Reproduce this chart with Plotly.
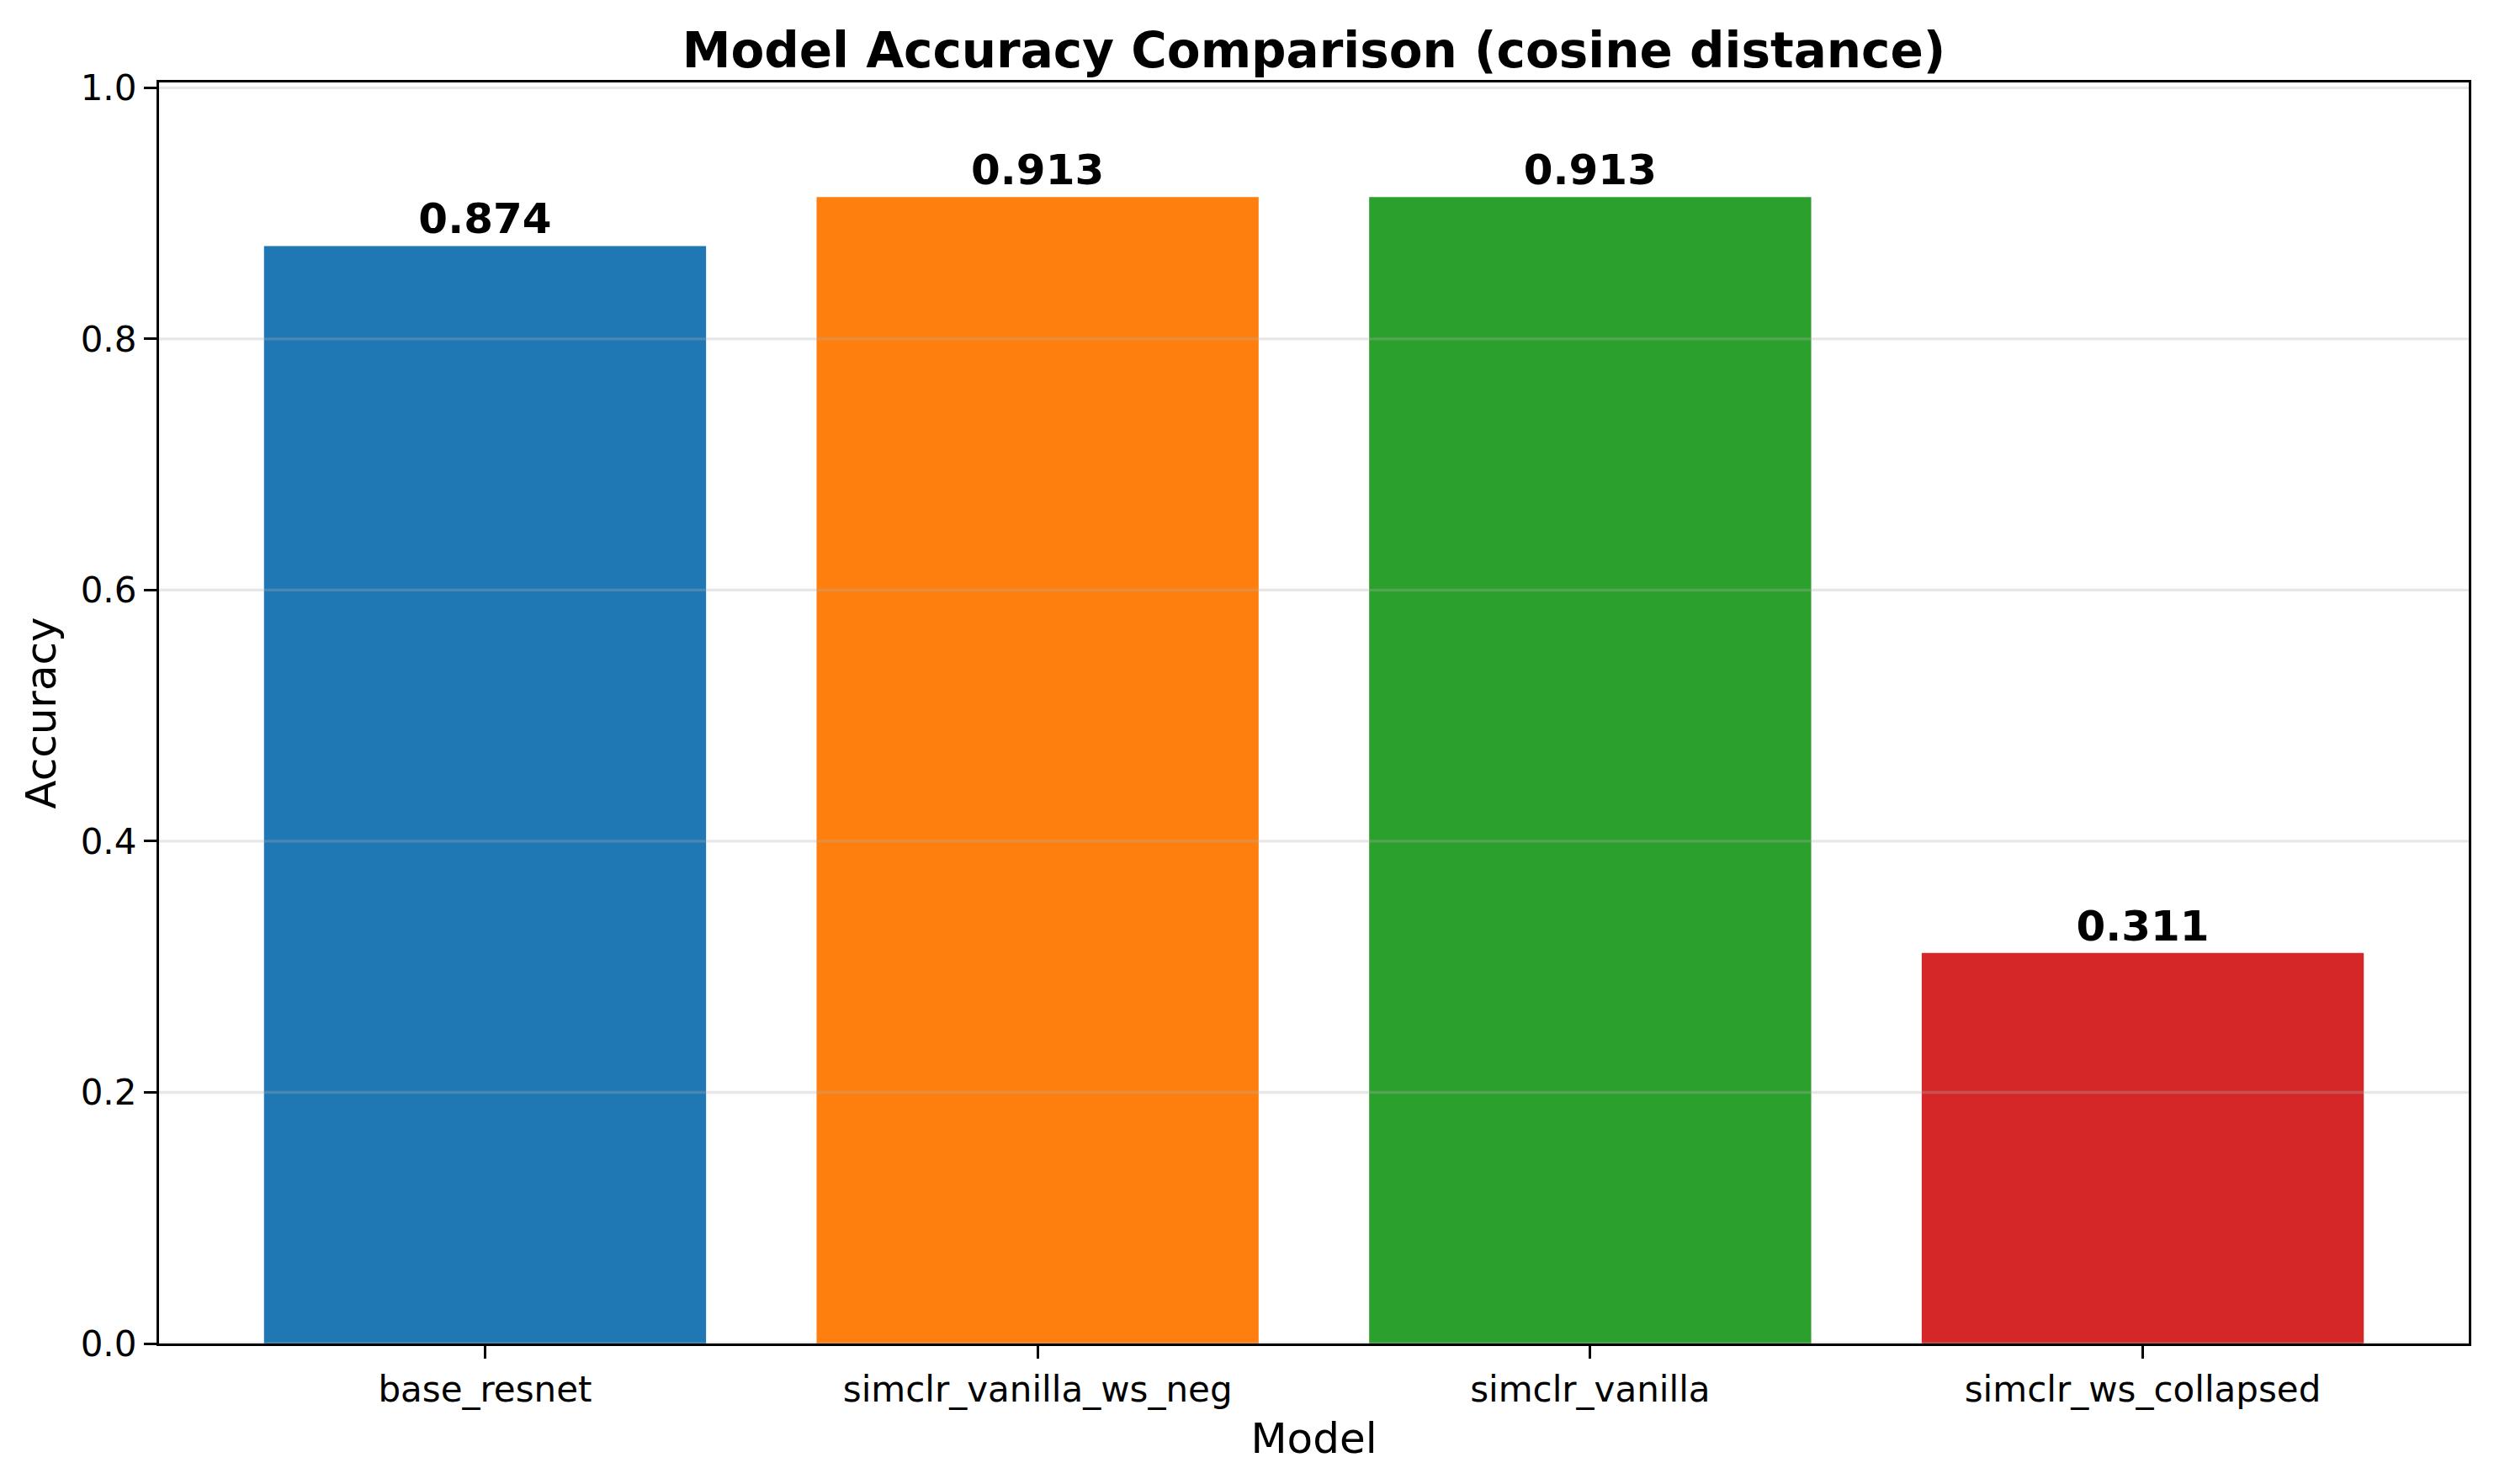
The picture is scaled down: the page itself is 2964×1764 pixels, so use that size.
import plotly.graph_objects as go

# accuracy per model
models = ["base_resnet", "simclr_vanilla_ws_neg", "simclr_vanilla", "simclr_ws_collapsed"]
accuracy = [0.874, 0.913, 0.913, 0.311]
bar_colors = ["#1f77b4", "#ff7f0e", "#2ca02c", "#d62728"]
y_ticks = [0.0, 0.2, 0.4, 0.6, 0.8, 1.0]

fnt = "DejaVu Sans"
lw = 3.3  # 0.8pt at 300dpi
W, H = 2956, 1756  # page body has an 8px margin

fig = go.Figure()
fig.add_trace(go.Bar(
    x=models, y=accuracy,
    marker=dict(color=bar_colors, line=dict(width=0)),
    width=0.8,
    text=[f"{v:.3f}" for v in accuracy],
    textposition="outside",
    textfont=dict(family=fnt, size=50, color="black", weight="bold"),
    constraintext="none",
    cliponaxis=False,
    showlegend=False,
))

# grid is drawn over the bars in the original
for t in y_ticks:
    fig.add_hline(y=t, line=dict(color="rgba(176,176,176,0.3)", width=lw), layer="above")

fig.update_layout(
    width=W, height=H,
    margin=dict(l=181, r=30, t=90, b=167),
    plot_bgcolor="white", paper_bgcolor="white",
    font=dict(family=fnt, color="black"),
    title=dict(text="<b>Model Accuracy Comparison (cosine distance)</b>",
               font=dict(family=fnt, size=58, color="black"),
               x=0.5, xref="paper", xanchor="center",
               y=1 - 72 / H, yref="container", yanchor="bottom"),
    bargap=0.2,
)
fig.update_xaxes(
    range=[-0.59, 3.59],
    showline=True, mirror=True, linecolor="black", linewidth=lw,
    ticks="outside", ticklen=15, tickwidth=lw, tickcolor="black",
    tickfont=dict(family=fnt, size=42, color="black"),
    showgrid=False, zeroline=False,
    title=dict(text="Model", font=dict(family=fnt, size=50, color="black"), standoff=18),
)
fig.update_yaxes(
    range=[0, 1.0043],
    tickvals=y_ticks, tickformat=".1f",
    showline=True, mirror=True, linecolor="black", linewidth=lw,
    ticks="outside", ticklen=15, tickwidth=lw, tickcolor="black",
    tickfont=dict(family=fnt, size=42, color="black"),
    showgrid=False, zeroline=False,
    title=dict(text="Accuracy", font=dict(family=fnt, size=50, color="black"), standoff=14),
)

fig.write_html("out.html")
